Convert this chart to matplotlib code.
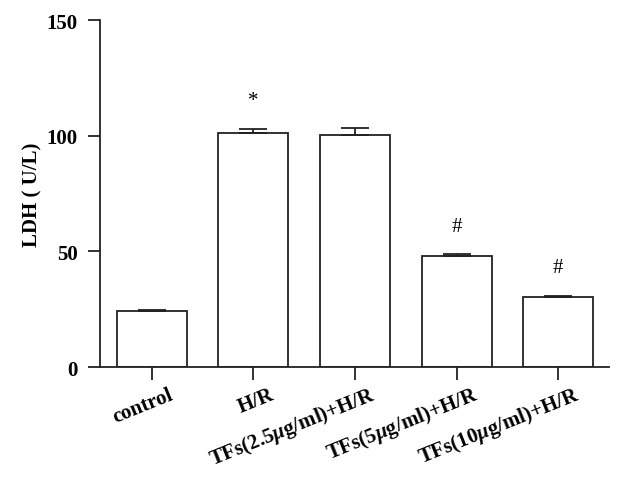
import numpy as np
import matplotlib
matplotlib.use("Agg")
import matplotlib.pyplot as plt
import matplotlib.transforms as mtransforms

groups = ["control", "H/R", "TFs(2.5$\\mu$g/ml)+H/R", "TFs(5$\\mu$g/ml)+H/R", "TFs(10$\\mu$g/ml)+H/R"]
values = [24.3, 101.2, 100.2, 48.2, 30.3]
errors = [0.4, 1.8, 3.2, 0.5, 0.5]
marks = ["", "*", "", "#", "#"]

plt.rcParams['font.family'] = ['Liberation Serif', 'DejaVu Serif']
plt.rcParams['font.weight'] = 'bold'
plt.rcParams['mathtext.fontset'] = 'custom'
plt.rcParams['mathtext.it'] = 'Liberation Serif:italic:bold'
plt.rcParams['mathtext.rm'] = 'Liberation Serif:bold'

fig = plt.figure(figsize=(6.39, 4.89), dpi=100)
ax = fig.add_axes([0.1565, 0.2474, 0.7965, 0.7096])

x = np.arange(len(groups))
ax.bar(x, values, width=0.69, color='white', edgecolor='#222222', linewidth=1.3, zorder=2)
ax.errorbar(x, values, yerr=[np.zeros(len(errors)), errors], fmt='none', ecolor='#222222',
            elinewidth=1.3, capsize=10, capthick=1.3, zorder=3)

for xi, v, e, m in zip(x, values, errors, marks):
    if m:
        ax.text(xi, v + e + 8, m, ha='center', va='bottom', fontsize=15, fontweight='normal')

ax.set_xlim(-0.51, 4.5)
ax.set_ylim(0, 150)
ax.set_yticks([0, 50, 100, 150])
ax.set_xticks(x)
ax.set_xticklabels([])

# rotated group labels, shifted so the right end sits just right of each tick
trans = ax.get_xaxis_transform() + mtransforms.ScaledTranslation(22 / 100, -31 / 100, fig.dpi_scale_trans)
for xi, g in zip(x, groups):
    ax.text(xi, 0, g, transform=trans, rotation=22, ha='right', va='baseline',
            rotation_mode='anchor', fontsize=15, fontweight='bold')

ax.tick_params(axis='y', labelsize=15, length=9, width=1.3, color='#222222', pad=7)
ax.tick_params(axis='x', length=9, width=1.3, color='#222222')
ax.set_ylabel("LDH ( U/L)", fontsize=15, fontweight='bold', labelpad=3)

for s in ['top', 'right']:
    ax.spines[s].set_visible(False)
for s in ['left', 'bottom']:
    ax.spines[s].set_linewidth(1.3)
    ax.spines[s].set_color('#222222')

fig.savefig("out.png", dpi=100)
